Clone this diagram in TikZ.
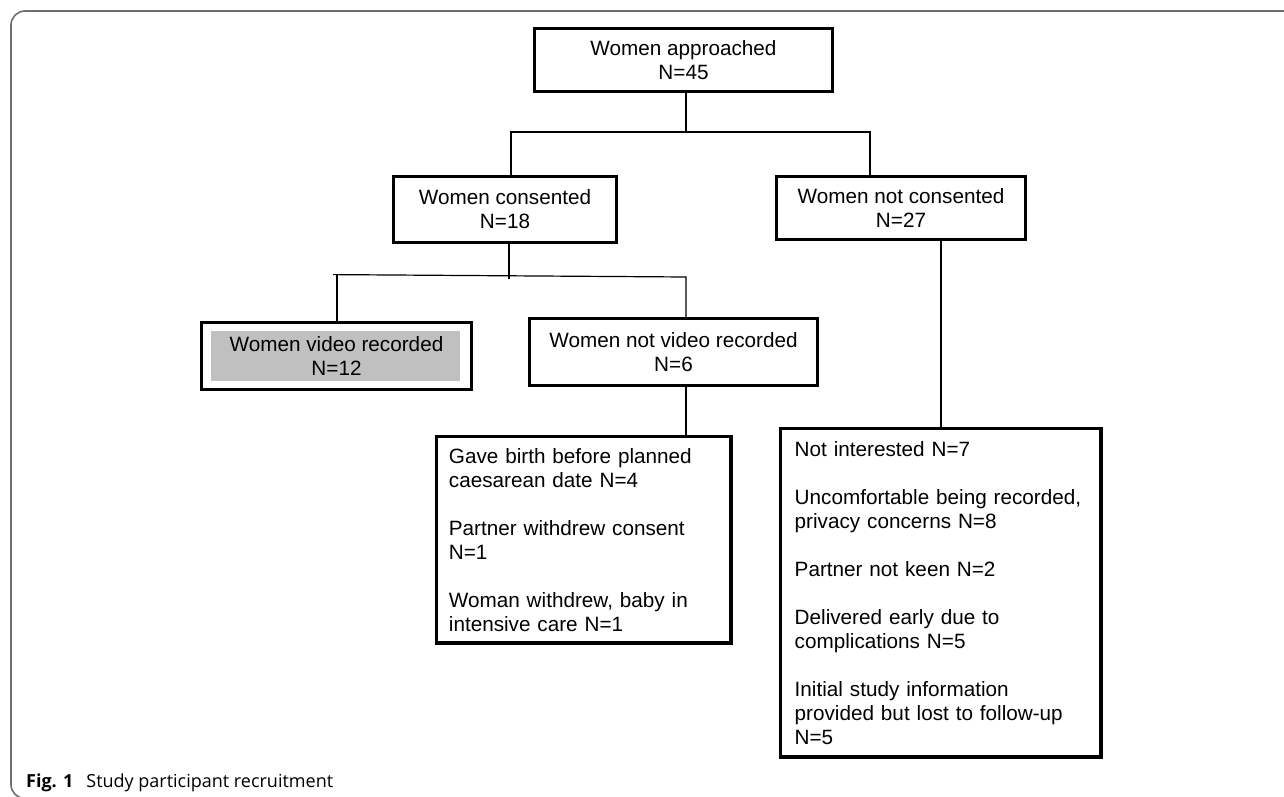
\documentclass[tikz,border=0pt]{standalone}
\usepackage{fontspec}
\setmainfont{Liberation Sans}
\newfontfamily\capfont{Open Sans}
\definecolor{fillgray}{RGB}{192,192,192}
\definecolor{framegray}{RGB}{110,110,110}
\begin{document}
\begin{tikzpicture}[x=1pt,y=-1pt,
  box/.style={draw, line width=3.4pt, align=center, inner sep=0pt, font=\fontsize{20.7}{24}\selectfont},
  detail/.style={draw, line width=3.4pt, align=left, inner ysep=0pt, anchor=north west, font=\fontsize{20.7}{24}\selectfont},
  conn/.style={line width=1.2pt},
]
\useasboundingbox (0,0) rectangle (1284,797);
\clip (0,0) rectangle (1284,797);

% outer frame
\draw[framegray, line width=1.6pt, rounded corners=14pt] (1300,11) -- (11,11) -- (11,798.5) -- (80,798.5);

% gray fill of the recorded box
\fill[fillgray] (211,331) rectangle (460,381);

% boxes
\node[box, minimum width=297.6pt, minimum height=62.6pt] (top) at (683.5,60) {Women approached\\N=45};
\node[box, minimum width=222.6pt, minimum height=65.6pt] (cons) at (505,209.5) {Women consented\\N=18};
\node[box, minimum width=248.6pt, minimum height=62.6pt] (ncons) at (901,208) {Women not consented\\N=27};
\node[box, minimum width=269.6pt, minimum height=66.6pt] (video) at (336.5,356) {Women video recorded\\N=12};
\node[box, minimum width=287.6pt, minimum height=66.6pt] (nvideo) at (673.5,352) {Women not video recorded\\N=6};

\node[detail, inner xsep=12.5pt, text width=269.6pt, minimum height=206.6pt] (ldet) at (434.7,434.7)
  {Gave birth before planned\\caesarean date N=4\\[24pt]Partner withdrew consent\\N=1\\[24pt]Woman withdrew, baby in\\intensive care N=1};
\node[detail, inner xsep=14.3pt, text width=292pt, minimum height=328.6pt] (rdet) at (778.7,426.7)
  {Not interested N=7\\[24pt]\mbox{Uncomfortable being recorded,}\\privacy concerns N=8\\[24pt]Partner not keen N=2\\[24pt]Delivered early due to\\complications N=5\\[24pt]Initial study information\\provided but lost to follow-up\\N=5};

% junction points
\coordinate (j1) at (686,132);
\coordinate (j1l) at (511,132);
\coordinate (j1r) at (870,132);
\coordinate (j2) at (509,279);
\coordinate (j2l) at (333,274.6);
\coordinate (j2v) at (337,274.7);
\coordinate (j2r) at (686,277);

% connectors
\draw[conn] (top.south -| j1) -- (j1);
\draw[conn] (cons.north -| j1l) -- (j1l) -- (j1r) -- (ncons.north -| j1r);
\draw[conn] (cons.south -| j2) -- (j2);
\draw[conn] (j2l) -- (j2r) -- (nvideo.north -| j2r);
\draw[conn] (j2v) -- (video.north -| j2v);
\draw[conn] (nvideo.south -| j2r) -- (ldet.north -| j2r);
\draw[conn] (ncons.south -| 941,0) -- (rdet.north -| 941,0);

% caption
\node[anchor=base west, inner sep=0pt, font=\capfont\fontsize{18}{21}\selectfont] (cap) at (26,787)
  {\textbf{Fig. 1}\hspace{13pt}Study participant recruitment};
\end{tikzpicture}
\end{document}
